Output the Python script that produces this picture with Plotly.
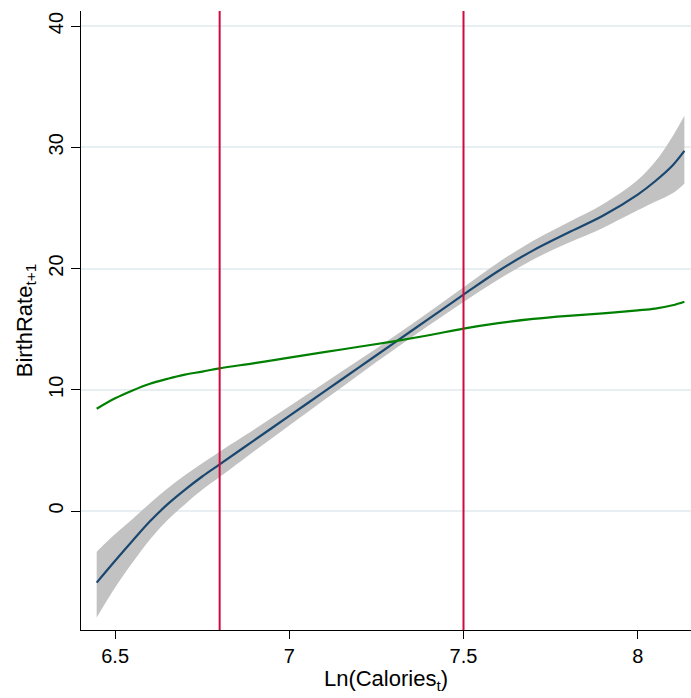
import plotly.graph_objects as go

# Ln(calories) grid where the fitted curves are evaluated
ln_cal = [6.447, 6.50, 6.55, 6.60, 6.65, 6.70, 6.75, 6.80, 6.90, 7.00, 7.10, 7.20,
          7.30, 7.40, 7.50, 7.60, 7.70, 7.80, 7.90, 8.00, 8.05, 8.10, 8.134]

# fitted birth rate (spline fit) with its confidence band
fit_birth = [-5.9, -4.1, -2.45, -0.85, 0.55, 1.75, 2.85, 3.85, 5.85, 7.85, 9.85, 11.85,
             13.85, 15.85, 17.85, 19.8, 21.5, 22.95, 24.35, 26.1, 27.2, 28.5, 29.7]
ci_upper = [-3.35, -1.9, -0.65, 0.65, 1.85, 2.95, 3.95, 4.9, 6.75, 8.65, 10.55, 12.45,
            14.4, 16.4, 18.45, 20.5, 22.3, 23.8, 25.3, 27.3, 28.8, 30.9, 32.6]
ci_lower = [-8.77, -6.3, -4.25, -2.35, -0.75, 0.55, 1.75, 2.8, 4.95, 7.05, 9.15, 11.25,
            13.3, 15.3, 17.25, 19.1, 20.75, 22.1, 23.35, 24.8, 25.5, 26.2, 27.0]

# comparison curve
alt_birth = [8.44, 9.3, 9.95, 10.5, 10.9, 11.25, 11.5, 11.77, 12.2, 12.65, 13.1, 13.55,
             14.0, 14.5, 15.05, 15.5, 15.85, 16.1, 16.3, 16.55, 16.7, 16.97, 17.26]

# vertical reference lines
cutoffs = [6.8, 7.5]

x_ticks = [6.5, 7, 7.5, 8]
x_tick_text = ["6.5", "7", "7.5", "8"]
y_ticks = [0, 10, 20, 30, 40]
y_tick_text = ["0", "10", "20", "30", "40"]

NAVY = "#1a476f"
GREEN = "#008000"
RED = "#cf0a3f"
BAND = "#c2c2c2"
GRID = "#e8eff2"
FONT = "Liberation Sans"

fig = go.Figure()

fig.add_trace(go.Scatter(x=ln_cal, y=ci_lower, mode="lines",
                         line=dict(width=0, shape="spline"),
                         hoverinfo="skip", showlegend=False))
fig.add_trace(go.Scatter(x=ln_cal, y=ci_upper, mode="lines",
                         line=dict(width=0, shape="spline"),
                         fill="tonexty", fillcolor=BAND, hoverinfo="skip", showlegend=False))
fig.add_trace(go.Scatter(x=ln_cal, y=fit_birth, mode="lines",
                         line=dict(color=NAVY, width=2.2, shape="spline"), showlegend=False))
fig.add_trace(go.Scatter(x=ln_cal, y=alt_birth, mode="lines",
                         line=dict(color=GREEN, width=2.2, shape="spline"), showlegend=False))

for c in cutoffs:
    fig.add_vline(x=c, line=dict(color=RED, width=2), layer="above")

fig.update_layout(
    width=691, height=698,
    margin=dict(l=81, r=0, t=11, b=68),
    paper_bgcolor="white", plot_bgcolor="white",
    font=dict(family=FONT, color="black", size=20),
    showlegend=False,
    xaxis=dict(
        range=[6.402, 8.153], tickvals=x_ticks, ticktext=x_tick_text,
        showgrid=False, zeroline=False,
        showline=True, linecolor="black", linewidth=1.3,
        ticks="outside", ticklen=8, tickwidth=1.3, tickcolor="black",
        tickfont=dict(size=20, family=FONT),
        title=dict(text="Ln(Calories<sub>t</sub>)", font=dict(size=22, family=FONT), standoff=4),
    ),
    yaxis=dict(
        range=[-9.81, 41.24], tickvals=y_ticks, ticktext=y_tick_text,
        tickangle=-90,
        showgrid=True, gridcolor=GRID, gridwidth=1.5, zeroline=False,
        showline=True, linecolor="black", linewidth=1.3,
        ticks="outside", ticklen=9, tickwidth=1.3, tickcolor="black",
        tickfont=dict(size=20, family=FONT),
        title=dict(text="BirthRate<sub>t+1</sub>", font=dict(size=22, family=FONT), standoff=6),
    ),
)

fig.write_html("out.html")
